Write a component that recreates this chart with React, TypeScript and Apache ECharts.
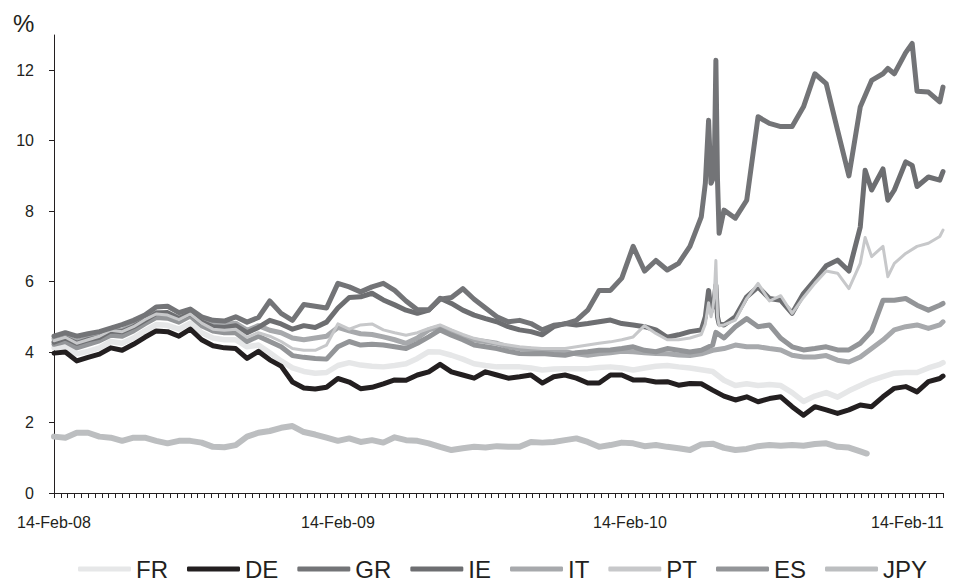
import React, { useEffect, useRef } from "react";
import * as echarts from "echarts";

// Day offsets from 14-Feb-08: fortnightly readings plus the last day (14-Feb-11)
const baseDays: number[] = Array.from({ length: 79 }, (_, k) => k * 14).concat([1096]);

const tickLabels = ["14-Feb-08", "14-Feb-09", "14-Feb-10", "14-Feb-11"];
const labelDays = [0, 350, 710, 1052];
const yTicks = [0, 2, 4, 6, 8, 10, 12];

const FR = [
  4.12, 4.15, 3.95, 4.02, 4.12, 4.30, 4.25, 4.40, 4.60, 4.78, 4.76, 4.65, 4.82, 4.55, 4.40, 4.35, 4.35, 4.15, 4.20, 3.98, 3.75, 3.55, 3.45, 3.40, 3.42, 3.62, 3.70,
  3.63, 3.60, 3.58, 3.62, 3.67, 3.82, 4.01, 4.00, 3.91, 3.80, 3.67, 3.62, 3.58, 3.58, 3.58, 3.55, 3.49, 3.52, 3.53, 3.53, 3.53, 3.56, 3.58, 3.55, 3.49, 3.55, 3.60,
  3.62, 3.58, 3.55, 3.50, 3.45, 3.20, 3.05, 3.10, 3.05, 3.08, 3.05, 2.85, 2.60, 2.75, 2.85, 2.72, 2.90, 3.05, 3.20, 3.30, 3.40, 3.42, 3.42, 3.55, 3.65,
  3.70,
];
const DE = [
  3.97, 4.00, 3.75, 3.85, 3.94, 4.12, 4.05, 4.22, 4.42, 4.60, 4.58, 4.45, 4.65, 4.35, 4.18, 4.12, 4.10, 3.82, 4.02, 3.78, 3.60, 3.15, 2.98, 2.95, 3.00, 3.25, 3.15,
  2.96, 3.00, 3.10, 3.21, 3.20, 3.35, 3.44, 3.65, 3.44, 3.35, 3.26, 3.44, 3.35, 3.26, 3.30, 3.35, 3.12, 3.30, 3.35, 3.26, 3.12, 3.12, 3.35, 3.35, 3.21, 3.21, 3.15,
  3.16, 3.06, 3.11, 3.10, 2.92, 2.75, 2.64, 2.73, 2.59, 2.68, 2.73, 2.45, 2.21, 2.45, 2.36, 2.26, 2.36, 2.50, 2.45, 2.73, 2.97, 3.02, 2.87, 3.16, 3.25,
  3.32,
];
const GR = [
  4.45, 4.55, 4.45, 4.52, 4.58, 4.68, 4.78, 4.90, 5.05, 5.28, 5.30, 5.12, 5.22, 5.00, 4.90, 4.88, 5.00, 4.85, 4.98, 5.45, 5.10, 4.90, 5.35, 5.30, 5.25, 5.95, 5.85,
  5.71, 5.85, 5.95, 5.75, 5.45, 5.20, 5.20, 5.50, 5.55, 5.80, 5.50, 5.25, 5.00, 4.86, 4.90, 4.81, 4.63, 4.76, 4.80, 4.90, 5.19, 5.75, 5.75, 6.10, 7.00, 6.30, 6.60,
  6.33, 6.52, 7.00, 7.84, 8.90, 8.03, 7.80, 8.31, 10.68, 10.49, 10.40, 10.40, 10.96, 11.90, 11.62, 10.30, 9.00, 10.96, 11.71, 11.90, 11.90, 12.50, 11.40, 11.38, 11.10,
  11.52,
];
const GR_EXTRA: [number, number][] = [
  [803, 8.79], [807, 10.58], [810, 8.79], [814, 9.17], [816, 12.28], [818, 8.88], [820, 7.37], [1028, 12.05], [1058, 12.76],
];
const IE = [
  4.28, 4.40, 4.25, 4.35, 4.42, 4.60, 4.58, 4.72, 4.90, 5.10, 5.12, 4.95, 5.10, 4.85, 4.72, 4.70, 4.75, 4.55, 4.70, 4.90, 4.80, 4.65, 4.75, 4.70, 4.85, 5.25, 5.55,
  5.57, 5.67, 5.48, 5.34, 5.19, 5.10, 5.19, 5.53, 5.38, 5.19, 5.05, 4.95, 4.86, 4.72, 4.63, 4.58, 4.49, 4.72, 4.81, 4.77, 4.81, 4.86, 4.91, 4.81, 4.77, 4.72, 4.63,
  4.42, 4.49, 4.58, 4.63, 5.30, 4.77, 5.00, 5.57, 5.85, 5.52, 5.47, 5.10, 5.66, 6.04, 6.45, 6.61, 6.30, 7.55, 8.60, 9.20, 8.60, 9.40, 8.70, 8.97, 8.88,
  9.12,
];
const IE_EXTRA: [number, number][] = [
  [803, 5.0], [807, 5.75], [810, 5.15], [814, 5.5], [816, 5.9], [818, 5.0], [820, 4.8], [1000, 9.16], [1028, 8.31], [1058, 9.3],
];
const IT = [
  4.38, 4.45, 4.30, 4.40, 4.48, 4.65, 4.62, 4.78, 4.95, 5.12, 5.10, 4.98, 5.12, 4.90, 4.80, 4.78, 4.82, 4.62, 4.75, 4.62, 4.55, 4.40, 4.35, 4.40, 4.45, 4.70, 4.60,
  4.52, 4.50, 4.43, 4.35, 4.25, 4.40, 4.63, 4.72, 4.58, 4.45, 4.34, 4.30, 4.25, 4.15, 4.10, 4.08, 4.06, 4.03, 4.01, 3.95, 3.91, 3.95, 3.98, 4.02, 4.01, 3.98, 3.96,
  3.95, 3.92, 3.90, 3.95, 4.05, 4.10, 4.20, 4.15, 4.15, 4.10, 4.06, 3.91, 3.86, 3.86, 3.90, 3.77, 3.72, 3.86, 4.10, 4.34, 4.63, 4.72, 4.77, 4.67, 4.77,
  4.86,
];
const PT = [
  4.32, 4.42, 4.25, 4.35, 4.45, 4.62, 4.58, 4.72, 4.92, 5.08, 5.05, 4.92, 5.08, 4.82, 4.65, 4.62, 4.65, 4.42, 4.55, 4.45, 4.30, 4.10, 4.05, 4.05, 4.20, 4.80, 4.65,
  4.77, 4.80, 4.63, 4.55, 4.48, 4.55, 4.67, 4.77, 4.63, 4.50, 4.39, 4.32, 4.25, 4.20, 4.15, 4.12, 4.10, 4.10, 4.10, 4.15, 4.20, 4.25, 4.29, 4.35, 4.43, 4.75, 4.53,
  4.35, 4.35, 4.40, 4.50, 5.20, 4.77, 4.91, 5.52, 5.95, 5.45, 5.60, 5.10, 5.55, 5.95, 6.30, 6.24, 5.80, 6.52, 6.71, 7.00, 6.52, 6.80, 7.00, 7.09, 7.28,
  7.46,
];
const PT_EXTRA: [number, number][] = [
  [803, 4.8], [807, 5.4], [810, 5.0], [814, 5.6], [816, 6.6], [818, 5.0], [820, 4.75], [1000, 7.25], [1028, 6.14],
];
const ES = [
  4.22, 4.30, 4.12, 4.22, 4.32, 4.48, 4.45, 4.60, 4.80, 4.98, 4.96, 4.85, 5.02, 4.75, 4.60, 4.55, 4.55, 4.30, 4.45, 4.30, 4.15, 3.90, 3.85, 3.82, 3.80, 4.15, 4.30,
  4.20, 4.22, 4.20, 4.15, 4.10, 4.25, 4.43, 4.63, 4.48, 4.35, 4.20, 4.15, 4.10, 4.02, 3.96, 3.95, 3.96, 3.93, 3.91, 3.98, 4.01, 4.05, 4.06, 4.10, 4.15, 4.05, 4.01,
  4.10, 4.05, 4.00, 4.05, 4.20, 4.40, 4.72, 4.95, 4.72, 4.77, 4.39, 4.15, 4.06, 4.10, 4.15, 4.06, 4.06, 4.25, 4.60, 5.47, 5.47, 5.52, 5.33, 5.19, 5.33,
  5.38,
];
const ES_EXTRA: [number, number][] = [[816, 4.56]];
const JPY: (number | null)[] = [
  1.60, 1.57, 1.71, 1.71, 1.60, 1.57, 1.48, 1.57, 1.57, 1.48, 1.41, 1.48, 1.48, 1.43, 1.31, 1.30, 1.36, 1.60, 1.71, 1.76, 1.85, 1.90, 1.73, 1.66, 1.57, 1.48, 1.55,
  1.45, 1.50, 1.43, 1.58, 1.50, 1.48, 1.41, 1.31, 1.22, 1.27, 1.31, 1.29, 1.33, 1.31, 1.31, 1.45, 1.43, 1.45, 1.50, 1.55, 1.45, 1.31, 1.36, 1.43, 1.41, 1.33, 1.36,
  1.31, 1.27, 1.22, 1.38, 1.40, 1.28, 1.22, 1.25, 1.33, 1.36, 1.34, 1.36, 1.34, 1.39, 1.41, 1.31, 1.29, 1.18, null, null, null, null, null, null, null,
  null,
];
const JPY_EXTRA: [number, number][] = [[1002, 1.12]];

const legendOrder = ["FR", "DE", "GR", "IE", "IT", "PT", "ES", "JPY"];

function points(vals: (number | null)[], extra: [number, number][] = []): [number, number][] {
  const p: [number, number][] = [];
  vals.forEach((v, i) => {
    if (v !== null && v !== undefined) p.push([baseDays[i], v]);
  });
  extra.forEach((e) => p.push(e));
  p.sort((a, b) => a[0] - b[0]);
  return p;
}

const FONT = "'Liberation Sans', Arial, sans-serif";
const INK = "#231f20";

export default function App() {
  const ref = useRef<HTMLDivElement>(null);
  useEffect(() => {
    document.body.style.margin = "0";
    if (!ref.current) return;
    const chart = echarts.init(ref.current, undefined, { renderer: "svg" });
    const xTicks = Array.from({ length: 131 }, (_, i) => (i * 1096) / 130);
    const mk = (name: string, data: [number, number][], color: string, width: number) => ({
      name,
      type: "line",
      data,
      symbol: "none",
      showSymbol: false,
      silent: true,
      color,
      itemStyle: { color },
      lineStyle: { color, width, cap: "round", join: "round" },
    });
    chart.setOption({
      animation: false,
      backgroundColor: "#ffffff",
      textStyle: { fontFamily: FONT },
      title: {
        text: "%",
        left: 8,
        top: 6,
        textStyle: { fontSize: 24, fontWeight: "normal", color: INK, fontFamily: FONT },
      },
      grid: { left: 54, right: 14, top: 35, bottom: 93, containLabel: false },
      legend: {
        data: legendOrder.map((n) => ({ name: n, icon: "roundRect" })),
        left: 73,
        top: 552,
        itemWidth: 53,
        itemHeight: 5,
        itemGap: 19,
        textStyle: { fontSize: 24, color: INK, fontFamily: FONT },
      },
      xAxis: {
        type: "value",
        min: 0,
        max: 1096,
        axisLine: { show: true, lineStyle: { color: INK, width: 1 } },
        axisTick: { show: true, customValues: xTicks, length: 5, lineStyle: { color: INK } },
        axisLabel: {
          customValues: labelDays,
          formatter: (v: number) => {
            const i = labelDays.indexOf(v);
            return i >= 0 ? tickLabels[i] : "";
          },
          fontSize: 16,
          color: INK,
          margin: 21,
          fontFamily: FONT,
        },
        splitLine: { show: false },
      },
      yAxis: {
        type: "value",
        min: 0,
        max: 13,
        axisLine: { show: true, lineStyle: { color: INK, width: 1 } },
        axisTick: { show: true, customValues: yTicks, length: 5, lineStyle: { color: INK } },
        axisLabel: { customValues: yTicks, fontSize: 16, color: INK, margin: 20, fontFamily: FONT },
        splitLine: { show: false },
      },
      series: [
        mk("FR", points(FR), "#e6e7e8", 5.5),
        mk("JPY", points(JPY, JPY_EXTRA), "#bcbec0", 6),
        mk("IT", points(IT), "#a7a9ac", 5),
        mk("ES", points(ES, ES_EXTRA), "#939598", 5),
        mk("DE", points(DE), "#231f20", 5),
        mk("IE", points(IE, IE_EXTRA), "#6d6e71", 5),
        mk("PT", points(PT, PT_EXTRA), "#c7c8ca", 3),
        mk("GR", points(GR, GR_EXTRA), "#737477", 5),
      ],
    });
    return () => chart.dispose();
  }, []);
  return <div ref={ref} style={{ width: 957, height: 586 }} />;
}
